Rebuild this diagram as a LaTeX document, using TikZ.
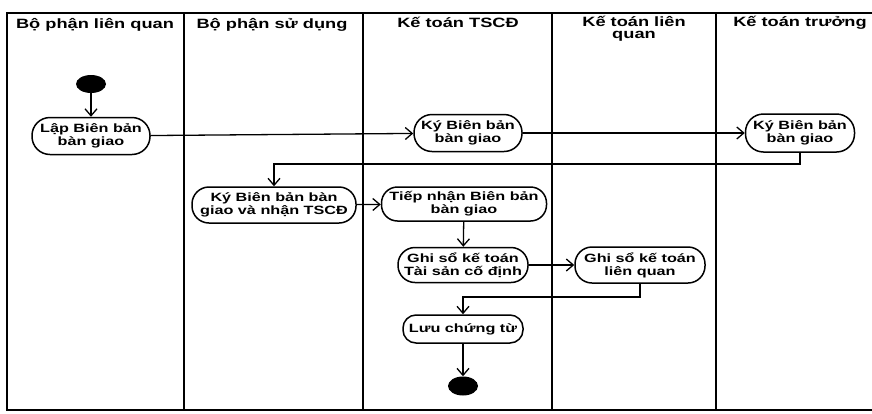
\documentclass[tikz,border=0pt]{standalone}
\usepackage{fontspec}
\setmainfont{Liberation Sans}[FakeStretch=1.35]
\usetikzlibrary{arrows.meta,shapes.geometric}
\begin{document}
\begin{tikzpicture}[x=1pt,y=-1pt,
  lane/.style={line width=1.6pt},
  head/.style={inner sep=0pt, align=center, anchor=base,
    font=\fontsize{13.5}{12}\selectfont\bfseries},
  act/.style={draw, line width=1.5pt, inner sep=0pt, align=center,
    font=\fontsize{12}{13}\selectfont\bfseries},
  dot/.style={ellipse, fill=black, inner sep=0pt},
  link/.style={line width=1.3pt},
  flow/.style={link, -{Straight Barb[length=7pt,width=12pt,line width=1.3pt]}}]
\useasboundingbox (0,0) rectangle (872,413);

% swimlane frame
\draw[lane] (872,13) -- (7,13) -- (7,410) -- (872,410);
\foreach \x in {184,363,552,716}
  \draw[lane] (\x,13) -- (\x,410);

% lane titles (a two-line title is placed by its last baseline)
\node[head] (h1) at (95,28) {Bộ phận liên quan};
\node[head] (h2) at (272,28) {Bộ phận sử dụng};
\node[head] (h3) at (458,27) {Kế toán TSCĐ};
\node[head] (h4) at (634,38) {Kế toán liên\\quan};
\node[head] (h5) at (800,26) {Kế toán trưởng};

% activities
\node[dot, minimum width=30pt, minimum height=18pt] (start) at (91,84) {};
\node[act, minimum width=118pt, minimum height=37pt, rounded corners=18pt] (lap) at (91,136) {Lập Biên bản\\bàn giao};
\node[act, minimum width=108pt, minimum height=37pt, rounded corners=18pt] (ky1) at (468,133) {Ký Biên bản\\bàn giao};
\node[act, minimum width=109pt, minimum height=38pt, rounded corners=18pt] (ky2) at (800,133) {Ký Biên bản\\bàn giao};
\node[act, minimum width=164pt, minimum height=36pt, rounded corners=17pt] (kyn) at (274,205) {Ký Biên bản bàn\\giao và nhận TSCĐ};
\node[act, minimum width=165pt, minimum height=34pt, rounded corners=16pt] (tiep) at (464,204) {Tiếp nhận Biên bản\\bàn giao};
\node[act, minimum width=130pt, minimum height=35pt, rounded corners=17pt] (ghi1) at (463,265) {Ghi sổ kế toán\\Tài sản cố định};
\node[act, minimum width=130pt, minimum height=36pt, rounded corners=17pt] (ghi2) at (640,265) {Ghi sổ kế toán\\liên quan};
\node[act, minimum width=120pt, minimum height=28pt, rounded corners=13pt] (luu) at (463,329) {Lưu chứng từ};
\node[dot, minimum width=30pt, minimum height=19pt] (end) at (463,386) {};

% bends of the return flows
\coordinate (r1) at (800,164);
\coordinate (r2) at (274,164);
\coordinate (r3) at (640,297);
\coordinate (r4) at (463,297);

% control flow
\draw[flow] (start) -- (lap);
\draw[flow] (lap) -- (ky1);
\draw[flow] (ky1) -- (ky2);
\draw[flow] (ky2.south) -- (r1) -- (r2) -- (kyn.north);
\draw[flow] (kyn) -- (tiep);
\draw[flow] (tiep) -- (ghi1);
\draw[flow] (ghi1) -- (ghi2);
\draw[flow] (ghi2.south) -- (r3) -- (r4) -- (luu.north);
\draw[flow] (luu) -- (end);
\end{tikzpicture}
\end{document}
